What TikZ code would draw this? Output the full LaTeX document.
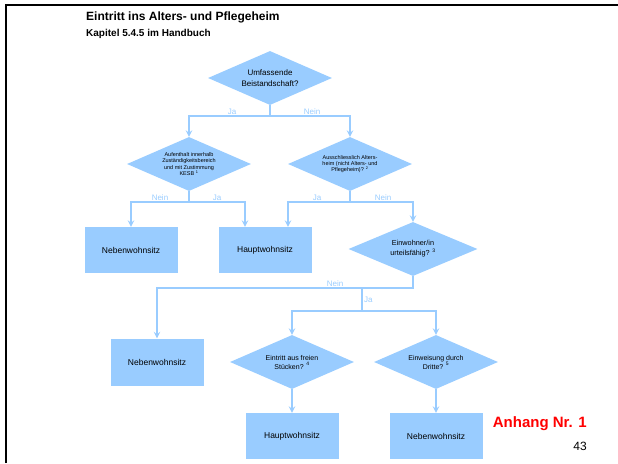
\documentclass[tikz,border=0pt]{standalone}
\usepackage{fontspec}
\setmainfont{Liberation Sans}
\usepackage{xcolor}
\usepackage{tikz}
\usetikzlibrary{shapes.geometric}
\definecolor{hblau}{HTML}{99CCFF}

\begin{document}
\begin{tikzpicture}[x=1pt,y=-1pt,
	sitz/.style={minimum width=93pt,minimum height=46pt,fill=hblau,inner sep=0pt,font=\fontsize{8.5}{10}\selectfont},
	frage/.style={diamond,aspect=2.3,minimum width=124pt,minimum height=54pt,fill=hblau,inner sep=0pt,align=center},
	pfeil/.style={-stealth,line width=1.8pt,draw=hblau},
	lbl/.style={text=hblau,inner sep=0pt,font=\fontsize{8}{9}\selectfont}]
		\useasboundingbox (0,0) rectangle (618,463);
		\draw[line width=2pt] (6,463)--(6,4.5)--(618,4.5);
		
		\node[anchor=west,inner sep=0pt,font=\fontsize{12}{14}\selectfont\bfseries] (titel) at (86,17) {Eintritt ins Alters- und Pflegeheim};
		\node[anchor=west,inner sep=0pt,font=\fontsize{10}{12}\selectfont\bfseries] (kap) at (86,34) {Kapitel 5.4.5 im Handbuch};
		
		\node[frage,font=\fontsize{8}{10.7}\selectfont] (bst) at (270,78) {Umfassende\\Beistandschaft?};
		\node[frage,font=\fontsize{5.5}{6.3}\selectfont] (aufh) at (189,164) {Aufenthalt innerhalb\\Zuständigkeitsbereich\\und mit Zustimmung\\KESB \textsuperscript{1}};
		\node[frage,font=\fontsize{5.5}{6.3}\selectfont,shift={(161,0)}] (aheim) at (aufh) {Ausschliesslich Alters-\\heim (nicht Alters- und\\Pflegeheim)? \textsuperscript{2}};
		\node[sitz] (nw1) at (131,250) {Nebenwohnsitz};
		\node[sitz,shift={(134,0)}] (hw1) at (nw1) {Hauptwohnsitz};
		\node[frage,minimum width=129pt,font=\fontsize{7.3}{10}\selectfont] (urt) at (413,249) {Einwohner/in\\urteilsfähig? \textsuperscript{3}};
		\node[sitz,minimum height=47pt] (nw2) at (157,362) {Nebenwohnsitz};
		\node[frage,font=\fontsize{7}{9}\selectfont] (frei) at (292,362) {Eintritt aus freien\\Stücken? \textsuperscript{4}};
		\node[frage,font=\fontsize{7}{9}\selectfont,shift={(144,0)}] (dritte) at (frei) {Einweisung durch\\Dritte? \textsuperscript{5}};
		\node[sitz,shift={(0,74)}] (hw2) at (frei) {Hauptwohnsitz};
		\node[sitz,shift={(0,74)}] (nw3) at (dritte) {Nebenwohnsitz};
		
		\node[anchor=east,inner sep=0pt,text=red,font=\fontsize{15}{17}\selectfont\bfseries] (anh) at (587,424) {Anhang Nr. 1};
		\node[anchor=east,inner sep=0pt,font=\fontsize{12}{14}\selectfont] (seite) at (587,446) {43};
		
		\coordinate[shift={(0,11)}] (g1) at (bst.south);
		\draw[pfeil] (bst.south)--(g1)-|(aufh.north);
		\draw[pfeil] (g1)-|(aheim.north);
		\coordinate[shift={(0,11)}] (g2) at (aufh.south);
		\draw[pfeil] (aufh.south)--(g2)-|(nw1.north);
		\draw[pfeil] (g2)-|([xshift=-20pt]hw1.north);
		\coordinate[shift={(0,11)}] (g3) at (aheim.south);
		\draw[pfeil] (aheim.south)--(g3)-|([xshift=23pt]hw1.north);
		\draw[pfeil] (g3)-|(urt.north);
		\coordinate[shift={(0,12)}] (g4) at (urt.south);
		\draw[pfeil] (urt.south)--(g4)-|(nw2.north);
		\coordinate[shift={(-51,0)}] (g5) at (g4);
		\coordinate[shift={(0,23)}] (g6) at (g5);
		\draw[pfeil] (g5)--(g6)-|(frei.north);
		\draw[pfeil] (g6)-|(dritte.north);
		\draw[pfeil] (frei)--(hw2);
		\draw[pfeil] (dritte)--(nw3);
		
		\node[lbl] (ja1) at (232,112) {Ja};
		\node[lbl] (nein1) at (312,112) {Nein};
		\node[lbl] (nein2) at (160,198) {Nein};
		\node[lbl] (ja2) at (217,198) {Ja};
		\node[lbl] (ja3) at (317,198) {Ja};
		\node[lbl] (nein3) at (383,198) {Nein};
		\node[lbl] (nein4) at (335,284) {Nein};
		\node[lbl,anchor=west] (ja4) at (364,300) {Ja};
	\end{tikzpicture}
\end{document}
